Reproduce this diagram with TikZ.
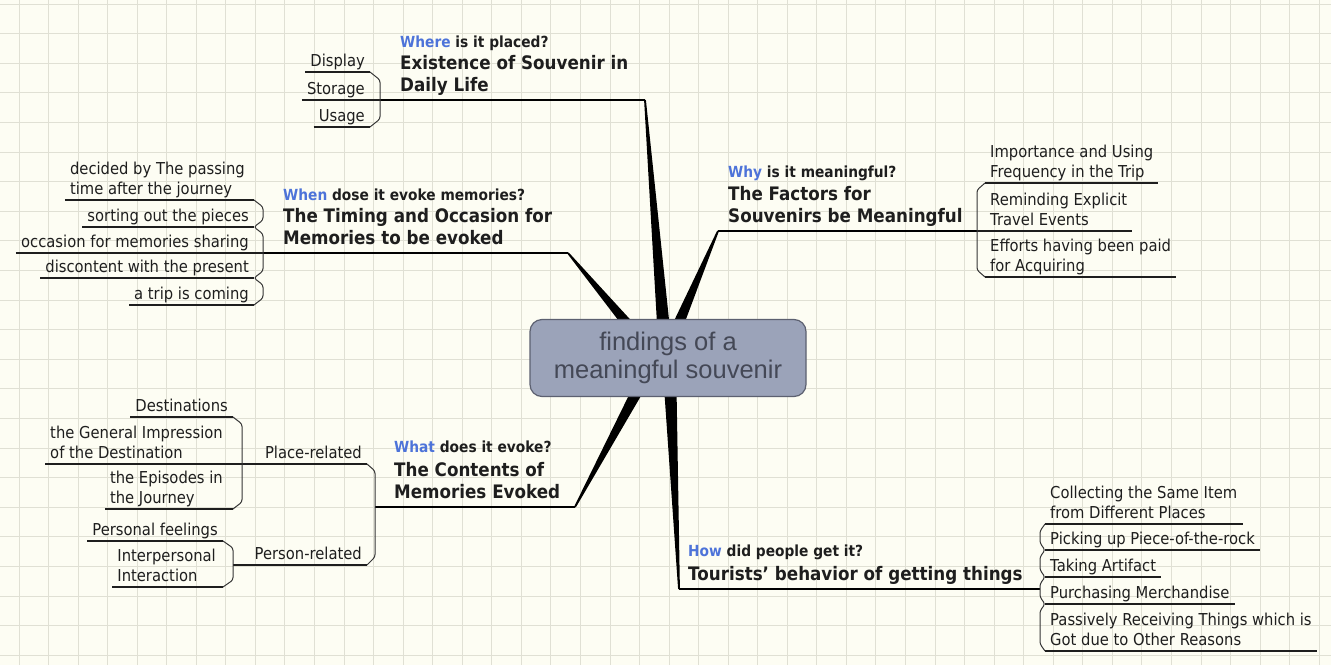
\documentclass[tikz,border=0pt]{standalone}
\usepackage{fontspec}
\setmainfont{DejaVu Sans}[FakeStretch=0.9]
\newfontfamily\centerfont{Liberation Sans}
\usetikzlibrary{calc}
\definecolor{bgc}{RGB}{253,253,243}
\definecolor{gridc}{RGB}{224,224,212}
\definecolor{qblue}{RGB}{77,115,217}
\definecolor{txt}{RGB}{30,30,30}
\definecolor{boxfill}{RGB}{155,163,185}
\definecolor{boxdraw}{RGB}{92,96,112}
\definecolor{boxtext}{RGB}{68,72,86}
\begin{document}
\begin{tikzpicture}[x=1pt,y=-1pt,
  subl/.style={font=\fontsize{16.4}{19.5}\selectfont, text=txt, inner xsep=5pt, inner ysep=0pt, text depth=5.5pt, align=right, anchor=south east},
  subr/.style={font=\fontsize{16.4}{19.5}\selectfont, text=txt, inner xsep=5pt, inner ysep=0pt, text depth=5.5pt, align=left, anchor=south west},
  subll/.style={subl, align=left},
  topic/.style={font=\bfseries\fontsize{18.6}{22}\selectfont, text=txt, inner sep=0pt, text depth=8.5pt, align=left, anchor=south west},
  head/.style={font=\bfseries\fontsize{15.3}{18}\selectfont, text=txt, inner sep=0pt, anchor=base west},
  uline/.style={line width=1.1pt, draw=txt},
  mline/.style={line width=1.5pt, draw=black},
  brk/.style={line width=1pt, draw=txt!90, rounded corners=2.5pt},
  spoke/.style={fill=black},
  centerbox/.style={draw=boxdraw, line width=1.2pt, fill=boxfill, rounded corners=12pt, minimum width=276pt, minimum height=77pt, align=center, text=boxtext, font=\centerfont\fontsize{25.5}{28.5}\selectfont}
]
\useasboundingbox (0,0) rectangle (1331,665);
\fill[bgc] (0,0) rectangle (1331,665);
\foreach \i in {0,...,44} \draw[gridc, line width=1pt] ({19+29.55*\i},0) -- ({19+29.55*\i},665);
\foreach \j in {0,...,22} \draw[gridc, line width=1pt] (0,{4+29.6*\j}) -- (1331,{4+29.6*\j});

% spoke tips and bases
\coordinate (tWhere) at (645,100);
\coordinate (tWhen) at (568,253);
\coordinate (tWhy) at (718,231);
\coordinate (tWhat) at (575,507);
\coordinate (tHow) at (679,589);
\coordinate (bWhere) at (666,358);
\coordinate (bWhen) at (656,358);
\coordinate (bWhy) at (664,358);
\coordinate (bWhat) at (655,358);
\coordinate (bHow) at (669,358);
\foreach \n in {Where,When,Why,What,How}
  \fill[spoke] ($(t\n)!0.9pt!90:(b\n)$) -- ($(b\n)!7pt!-90:(t\n)$) -- ($(b\n)!7pt!90:(t\n)$) -- ($(t\n)!0.9pt!-90:(b\n)$) -- cycle;

\node[centerbox] (c) at (668,358) {findings of a\\meaningful souvenir};

% ---------- WHERE ----------
\node[head] (hWhere) at (400,47) {\textcolor{qblue}{Where} is it placed?};
\node[topic] (Where) at (400,100) {Existence of Souvenir in\\Daily Life};
\coordinate (jWhere) at (380,100);
\draw[mline] (jWhere) -- (tWhere);
\node[subl] (w1) at (370,72) {Display};
\node[subl] (w2) at (370,100) {Storage};
\node[subl] (w3) at (370,127) {Usage};
\draw[uline] (w1.south west) -- (w1.south east);
\draw[uline] (w2.south west) -- (jWhere);
\draw[uline] (w3.south west) -- (w3.south east);
\draw[brk] (w1.south east) -- (380,80) -- (380,119) -- (w3.south east);

% ---------- WHEN ----------
\node[head] (hWhen) at (283,200) {\textcolor{qblue}{When} dose it evoke memories?};
\node[topic] (When) at (283,253) {The Timing and Occasion for\\Memories to be evoked};
\coordinate (jWhen) at (263,253);
\draw[mline] (jWhen) -- (tWhen);
\node[subll] (n1) at (250,200) {decided by The passing\\time after the journey};
\node[subl] (n2) at (254,227) {sorting out the pieces};
\node[subl] (n3) at (254,253) {occasion for memories sharing};
\node[subl] (n4) at (254,278) {discontent with the present};
\node[subl] (n5) at (254,305) {a trip is coming};
\foreach \k in {n2,n4,n5} \draw[uline] (\k.south west) -- (\k.south east);
\draw[uline] (n1.south west) -- (254,200);
\draw[uline] (n3.south west) -- (jWhen);
\draw[brk] (254,200) -- (263,207) -- (263,220) -- (n2.south east) -- (263,234) -- (263,271) -- (n4.south east) -- (263,285) -- (263,298) -- (n5.south east);

% ---------- WHY ----------
\node[head] (hWhy) at (728,177) {\textcolor{qblue}{Why} is it meaningful?};
\node[topic] (Why) at (728,231) {The Factors for\\Souvenirs be Meaningful};
\coordinate (jWhy) at (977,231);
\draw[mline] (tWhy) -- (jWhy);
\node[subr] (y1) at (985,183) {Importance and Using\\Frequency in the Trip};
\node[subr] (y2) at (985,231) {Reminding Explicit\\Travel Events};
\node[subr] (y3) at (985,277) {Efforts having been paid\\for Acquiring};
\draw[uline] (y1.south west) -- (y1.south east);
\draw[uline] (jWhy) -- (y2.south east);
\draw[uline] (y3.south west) -- (y3.south east);
\draw[brk] (y1.south west) -- (977,190) -- (977,270) -- (y3.south west);

% ---------- WHAT ----------
\node[head] (hWhat) at (394,452) {\textcolor{qblue}{What} does it evoke?};
\node[topic] (What) at (394,507) {The Contents of\\Memories Evoked};
\coordinate (jWhat) at (375,507);
\draw[mline] (jWhat) -- (tWhat);
\node[subl, inner xsep=4pt] (pl) at (366,464) {Place-related};
\node[subl, inner xsep=4pt] (pe) at (366,565) {Person-related};
\coordinate (jPl) at (242,464);
\coordinate (jPe) at (233,565);
\draw[uline] (jPl) -- (367,464);
\draw[uline] (jPe) -- (367,565);
\draw[brk] (367,464) -- (375,471) -- (375,557) -- (367,565);
% place sub-items
\node[subl] (a1) at (233,417) {Destinations};
\node[subll] (a2) at (228,464) {the General Impression\\of the Destination};
\node[subll] (a3) at (228,509) {the Episodes in\\the Journey};
\draw[uline] (a1.south west) -- (233,417);
\draw[uline] (a2.south west) -- (jPl);
\draw[uline] (a3.south west) -- (233,509);
\draw[brk] (233,417) -- (242,424) -- (242,502) -- (233,509);
% person sub-items
\node[subl] (b1) at (223,541) {Personal feelings};
\node[subll] (b2) at (221,587) {Interpersonal\\Interaction};
\draw[uline] (b1.south west) -- (223,541);
\draw[uline] (b2.south west) -- (223,587);
\draw[brk] (223,541) -- (233,548) -- (233,580) -- (223,587);

% ---------- HOW ----------
\node[head] (hHow) at (688,556) {\textcolor{qblue}{How} did people get it?};
\node[topic] (How) at (688,589) {Tourists' behavior of getting things};
\coordinate (jHow) at (1040,589);
\draw[mline] (tHow) -- (jHow);
\node[subr] (h1) at (1045,524) {Collecting the Same Item\\from Different Places};
\node[subr] (h2) at (1045,550) {Picking up Piece-of-the-rock};
\node[subr] (h3) at (1045,577) {Taking Artifact};
\node[subr] (h4) at (1045,604) {Purchasing Merchandise};
\node[subr] (h5) at (1045,651) {Passively Receiving Things which is\\Got due to Other Reasons};
\foreach \k in {h1,h2,h3,h4,h5} \draw[uline] (\k.south west) -- (\k.south east);
\draw[brk] (h1.south west) -- (1040,531) -- (1040,543) -- (h2.south west) -- (1040,557) -- (1040,570) -- (h3.south west) -- (1040,584) -- (1040,597) -- (h4.south west) -- (1040,611) -- (1040,644) -- (h5.south west);
\end{tikzpicture}
\end{document}
